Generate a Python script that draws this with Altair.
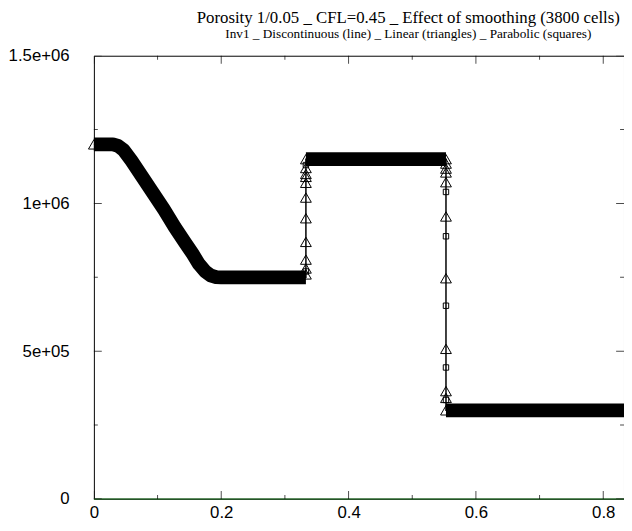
import altair as alt
import pandas as pd

# ---- data ----
# Discontinuous solution (thin line); the dense Linear/Parabolic markers lie on it
line_x = [0.0, 0.03, 0.038, 0.047, 0.059, 0.076, 0.093, 0.11, 0.127, 0.144, 0.155, 0.165,
          0.175, 0.183, 0.192, 0.2, 0.333, 0.333, 0.553, 0.553, 1.0]
line_y = [1.2e6, 1.2e6, 1.195e6, 1.18e6, 1.145e6, 1.09e6, 1.035e6, 0.98e6, 0.92e6, 0.865e6,
          0.83e6, 0.795e6, 0.77e6, 0.757e6, 0.751e6, 0.75e6, 0.75e6, 1.15e6, 1.15e6, 3.0e5, 3.0e5]
line_seg = [1] * 17 + [2] * 2 + [3] * 2

# Linear (triangles): visible points inside the jumps and at plateau ends
tri_x = [0.0, 0.333, 0.553, 0.553] + [0.333] * 10 + [0.553] * 9
tri_y = [1.2e6, 1.15e6, 1.15e6, 3.0e5,
         1.12e6, 1.10e6, 1.09e6, 1.07e6, 1.02e6, 0.95e6, 0.87e6, 0.81e6, 0.78e6, 0.76e6,
         1.135e6, 1.118e6, 1.105e6, 1.072e6, 0.956e6, 0.747e6, 0.508e6, 0.365e6, 0.342e6]

# Parabolic (squares)
sq_x = [0.333, 0.333] + [0.553] * 5
sq_y = [1.13e6, 0.77e6, 1.039e6, 0.889e6, 0.654e6, 0.445e6, 0.335e6]

# axis ticks / labels
x_major = [0.0, 0.2, 0.4, 0.6, 0.8]
x_minor = [0.1, 0.3, 0.5, 0.7]
y_major = [0.0, 5e5, 1e6, 1.5e6]
y_minor = [2.5e5, 7.5e5, 1.25e6]
y_labels = ["0", "5e+05", "1e+06", "1.5e+06"]
x_max = 0.8326

W, H = 537, 449

line_df = pd.DataFrame({"x": line_x, "y": line_y, "seg": line_seg, "order": list(range(len(line_x)))})
tri_df = pd.DataFrame({"x": tri_x, "y": tri_y})
sq_df = pd.DataFrame({"x": sq_x, "y": sq_y})

label_expr = " : ".join(
    [f"datum.value == {v} ? '{l}'" for v, l in zip(y_major[:-1], y_labels[:-1])]
) + f" : '{y_labels[-1]}'"

xaxis = alt.Axis(values=x_major, format="~g", ticks=False, domain=False, grid=False,
                 labelFont="Liberation Sans", labelFontSize=17, labelColor="black",
                 labelPadding=6, labelOverlap=False, labelFlush=False, title=None)
yaxis = alt.Axis(values=y_major, labelExpr=label_expr, ticks=False, domain=False, grid=False,
                 labelFont="Liberation Sans", labelFontSize=17, labelColor="black",
                 labelPadding=25, labelOverlap=False, labelFlush=False, title=None)

X = alt.X("x:Q", scale=alt.Scale(domain=[0, x_max], nice=False, zero=False), axis=xaxis)
Y = alt.Y("y:Q", scale=alt.Scale(domain=[0, 1.5e6], nice=False, zero=False), axis=yaxis)

band = alt.Chart(line_df).mark_line(color="black", strokeWidth=14, strokeCap="butt",
                                    strokeJoin="round").encode(
    x=X, y=Y, detail="seg:N", order="order:Q")
disc = alt.Chart(line_df).mark_line(color="black", strokeWidth=1.5).encode(
    x=X, y=Y, order="order:Q")
tri = alt.Chart(tri_df).mark_point(shape="triangle-up", size=120, filled=False, color="black",
                                   strokeWidth=1, opacity=1).encode(x=X, y=Y)
sq = alt.Chart(sq_df).mark_point(shape="square", size=30, filled=False, color="black",
                                 strokeWidth=1, opacity=1).encode(x=X, y=Y)
zero = alt.Chart(pd.DataFrame({"y": [0.0]})).mark_rule(color="#2f6b32", strokeWidth=1.5).encode(y=Y)

def yticks(vals, length, xpos):
    return alt.Chart(pd.DataFrame({"y": vals})).mark_tick(
        orient="horizontal", size=length, thickness=1, clip=True, color="black").encode(
        y=Y, x=alt.value(xpos))

def xticks(vals, length, ypos):
    return alt.Chart(pd.DataFrame({"x": vals})).mark_tick(
        orient="vertical", size=length, thickness=1, clip=True, color="black").encode(
        x=X, y=alt.value(ypos))

ticks = [yticks(y_major, 16, 0), yticks(y_minor, 8, 0), yticks(y_major, 16, W), yticks(y_minor, 8, W),
         xticks(x_major, 16, 0), xticks(x_minor, 8, 0), xticks(x_major, 16, H), xticks(x_minor, 8, H)]

chart = alt.layer(zero, *ticks, band, disc, tri, sq).properties(
    width=W, height=H,
    autosize=alt.AutoSizeParams(type="none"),
    padding={"left": 87, "top": 45, "right": 0, "bottom": 22},
    title=alt.TitleParams(
        text="Porosity 1/0.05 _ CFL=0.45 _  Effect of smoothing (3800 cells)",
        subtitle="Inv1 _  Discontinuous (line) _  Linear (triangles) _  Parabolic (squares)",
        font="Liberation Serif", fontSize=17, fontWeight="normal", color="black",
        subtitleFont="Liberation Serif", subtitleFontSize=13.4, subtitleColor="black",
        subtitlePadding=0, anchor="middle", offset=6, dx=50),
).configure_view(stroke="black", strokeWidth=1)

chart.save("out.html", embed_options={"renderer": "svg", "actions": False})
